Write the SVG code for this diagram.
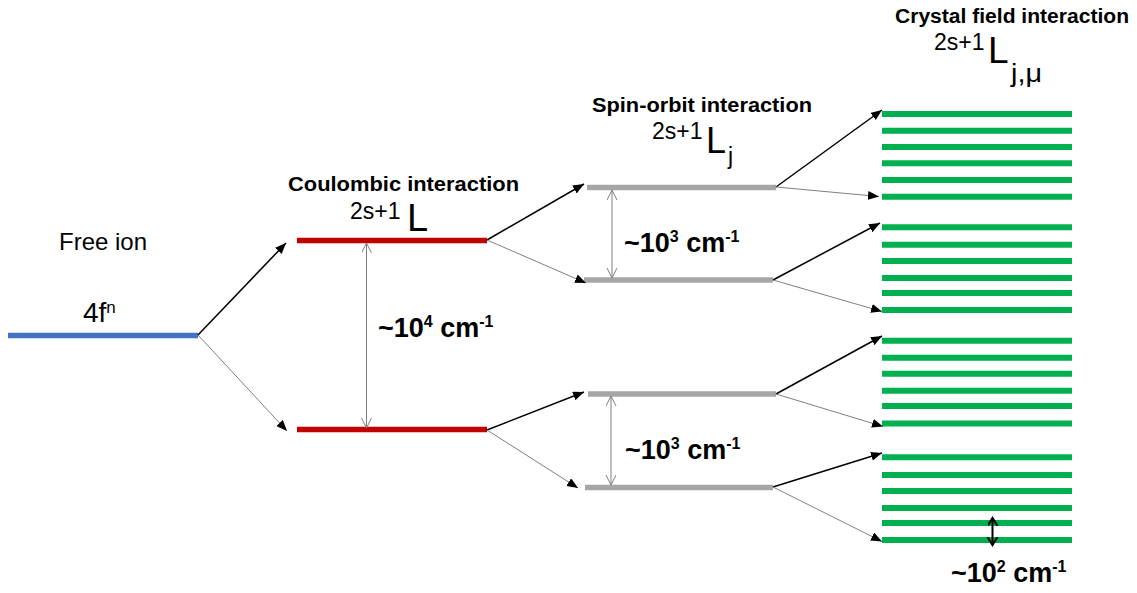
<svg xmlns="http://www.w3.org/2000/svg" width="1137" height="593" viewBox="0 0 1137 593">
<style>
text{font-family:"Liberation Sans",Arial,sans-serif;fill:#000}
.b{font-weight:bold}
.lv{stroke-width:5.5;fill:none}
.blue{stroke:#4472C4}
.red{stroke:#C00000}
.gray{stroke:#A6A6A6}
.green{stroke:#00B050;stroke-width:6}
.up{stroke:#000;stroke-width:1.5;fill:none;marker-end:url(#ah)}
.dn{stroke:#7F7F7F;stroke-width:1;fill:none;marker-end:url(#ah)}
.gap{stroke:#7F7F7F;stroke-width:1;fill:none;marker-start:url(#vh);marker-end:url(#vh)}
.gapk{stroke:#000;stroke-width:2;fill:none;marker-start:url(#vk);marker-end:url(#vk)}
</style>
<defs>
<marker id="ah" markerUnits="userSpaceOnUse" markerWidth="12" markerHeight="10" refX="11" refY="4.5" orient="auto"><path d="M0,0 L11,4.5 L0,9 z" fill="#000"/></marker>
<marker id="vh" markerUnits="userSpaceOnUse" markerWidth="12" markerHeight="12" refX="10" refY="5" orient="auto-start-reverse"><path d="M0,0 L10,5 L0,10" fill="none" stroke="#7F7F7F" stroke-width="1"/></marker>
<marker id="vk" markerUnits="userSpaceOnUse" markerWidth="12" markerHeight="12" refX="8" refY="5" orient="auto-start-reverse"><path d="M0,0 L8,5 L0,10" fill="none" stroke="#000" stroke-width="2"/></marker>
</defs>

<g id="free-ion">
<line class="lv blue" x1="8" y1="335.5" x2="198" y2="335.5"/>
<text x="59" y="250" font-size="24">Free ion</text>
<text x="83" y="322" font-size="28">4f<tspan font-size="17" y="313">n</tspan></text>
</g>

<g id="coulombic">
<text class="b" x="288" y="191" font-size="20" textLength="231" lengthAdjust="spacingAndGlyphs">Coulombic interaction</text>
<text x="350" y="219" font-size="23">2s+1</text>
<text x="407" y="231" font-size="38">L</text>
<line class="lv red" x1="297" y1="240.5" x2="487" y2="240.5"/>
<line class="lv red" x1="297" y1="429.5" x2="487" y2="429.5"/>
</g>

<g id="spin-orbit">
<text class="b" x="592" y="112" font-size="20" textLength="220" lengthAdjust="spacingAndGlyphs">Spin-orbit interaction</text>
<text x="652" y="139" font-size="23">2s+1</text>
<text x="706" y="153" font-size="36">L</text>
<text x="728" y="164" font-size="23">j</text>
<line class="lv gray" x1="587" y1="187.5" x2="776" y2="187.5"/>
<line class="lv gray" x1="584" y1="280" x2="773" y2="280"/>
<line class="lv gray" x1="588" y1="394" x2="776" y2="394"/>
<line class="lv gray" x1="585" y1="487.5" x2="773" y2="487.5"/>
</g>

<g id="crystal-field">
<text class="b" x="895" y="23" font-size="20" textLength="234" lengthAdjust="spacingAndGlyphs">Crystal field interaction</text>
<text x="934" y="50" font-size="23">2s+1</text>
<text x="988" y="63" font-size="37">L</text>
<text x="1011" y="82" font-size="26" textLength="31" lengthAdjust="spacingAndGlyphs">j,μ</text>
<g class="green">
<line x1="882" y1="114" x2="1072" y2="114"/>
<line x1="882" y1="130.7" x2="1072" y2="130.7"/>
<line x1="882" y1="147" x2="1072" y2="147"/>
<line x1="882" y1="163.3" x2="1072" y2="163.3"/>
<line x1="882" y1="180" x2="1072" y2="180"/>
<line x1="882" y1="196.7" x2="1072" y2="196.7"/>
<line x1="882" y1="227.3" x2="1072" y2="227.3"/>
<line x1="882" y1="244.7" x2="1072" y2="244.7"/>
<line x1="882" y1="261" x2="1072" y2="261"/>
<line x1="882" y1="278" x2="1072" y2="278"/>
<line x1="882" y1="293" x2="1072" y2="293"/>
<line x1="882" y1="310" x2="1072" y2="310"/>
<line x1="882" y1="340.7" x2="1072" y2="340.7"/>
<line x1="882" y1="357.7" x2="1072" y2="357.7"/>
<line x1="882" y1="373.7" x2="1072" y2="373.7"/>
<line x1="882" y1="390.7" x2="1072" y2="390.7"/>
<line x1="882" y1="406" x2="1072" y2="406"/>
<line x1="882" y1="423.5" x2="1072" y2="423.5"/>
<line x1="882" y1="457.3" x2="1072" y2="457.3"/>
<line x1="882" y1="475" x2="1072" y2="475"/>
<line x1="882" y1="491" x2="1072" y2="491"/>
<line x1="882" y1="508" x2="1072" y2="508"/>
<line x1="882" y1="523" x2="1072" y2="523"/>
<line x1="882" y1="540" x2="1072" y2="540"/>
</g>
</g>

<g id="gap-labels">
<text class="b" x="378" y="337" font-size="27">~10<tspan font-size="16" dy="-10">4</tspan><tspan dy="10"> cm</tspan><tspan font-size="16" dy="-10">-1</tspan></text>
<text class="b" x="624" y="252" font-size="27">~10<tspan font-size="16" dy="-10">3</tspan><tspan dy="10"> cm</tspan><tspan font-size="16" dy="-10">-1</tspan></text>
<text class="b" x="625" y="459" font-size="27">~10<tspan font-size="16" dy="-10">3</tspan><tspan dy="10"> cm</tspan><tspan font-size="16" dy="-10">-1</tspan></text>
<text class="b" x="951" y="582" font-size="27">~10<tspan font-size="16" dy="-10">2</tspan><tspan dy="10"> cm</tspan><tspan font-size="16" dy="-10">-1</tspan></text>
</g>

<g id="connectors">
<line class="up" x1="198" y1="335" x2="286" y2="243"/>
<line class="dn" x1="198" y1="335" x2="287" y2="431"/>
<line class="up" x1="487" y1="240" x2="584" y2="184"/>
<line class="dn" x1="487" y1="240" x2="586" y2="283"/>
<line class="up" x1="487" y1="430" x2="584" y2="392"/>
<line class="dn" x1="487" y1="430" x2="578" y2="488"/>
<line class="up" x1="776" y1="187" x2="882" y2="110"/>
<line class="dn" x1="776" y1="187" x2="879" y2="196.5"/>
<line class="up" x1="773" y1="280" x2="880" y2="223"/>
<line class="dn" x1="773" y1="280" x2="882" y2="311.5"/>
<line class="up" x1="776" y1="394" x2="882" y2="336"/>
<line class="dn" x1="776" y1="394" x2="883" y2="426.5"/>
<line class="up" x1="773" y1="487" x2="882" y2="453"/>
<line class="dn" x1="773" y1="487" x2="882" y2="541.5"/>
<line class="gap" x1="366.5" y1="243" x2="366.5" y2="428"/>
<line class="gap" x1="612" y1="190" x2="612" y2="278"/>
<line class="gap" x1="611" y1="396" x2="611" y2="485"/>
<line class="gapk" x1="992.5" y1="518" x2="992.5" y2="545"/>
</g>
</svg>
